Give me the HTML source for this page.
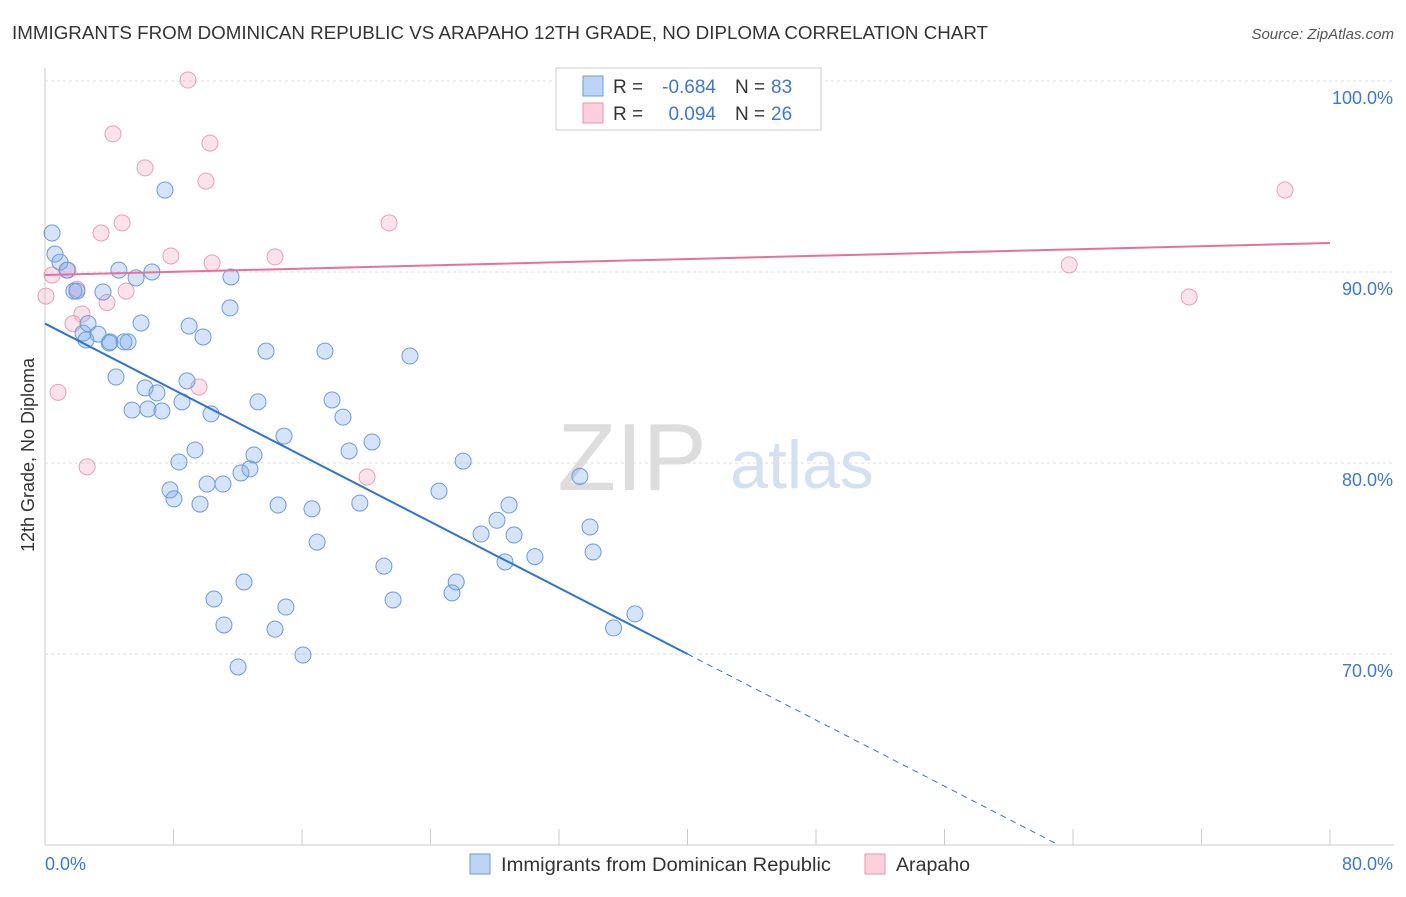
<!DOCTYPE html>
<html><head><meta charset="utf-8">
<style>
body{margin:0;background:#fff;font-family:"Liberation Sans",sans-serif;}
svg text{font-family:"Liberation Sans",sans-serif;}
</style></head>
<body>
<svg id="chart" width="1406" height="892" viewBox="0 0 1406 892" xmlns="http://www.w3.org/2000/svg">
<text x="12" y="39" font-size="18" fill="#333" textLength="976" lengthAdjust="spacingAndGlyphs">IMMIGRANTS FROM DOMINICAN REPUBLIC VS ARAPAHO 12TH GRADE, NO DIPLOMA CORRELATION CHART</text>
<text x="1394" y="39" font-size="15" fill="#555" text-anchor="end" font-style="italic">Source: ZipAtlas.com</text>
<g>
<text x="632" y="490" font-size="96" fill="#ddd" font-family="Liberation Serif, serif" text-anchor="middle">ZIP</text>
<text x="802" y="488" font-size="68" fill="#d4e1f3" text-anchor="middle">atlas</text>
</g>
<g id="grid"></g>
<g id="axes"></g>
<g id="marks"></g>
<text transform="translate(34,455) rotate(-90)" font-size="18" fill="#333" text-anchor="middle">12th Grade, No Diploma</text>
<g>
<rect x="556" y="68" width="265" height="62" fill="#fff" stroke="#ccc"/>
<rect x="583" y="76" width="20" height="20" fill="#bcd4f5" stroke="#6a9be0"/>
<rect x="583" y="103" width="20" height="20" fill="#fbd0dc" stroke="#e893b0"/>
<text x="613" y="93" font-size="19" fill="#333">R =</text>
<text x="716" y="93" font-size="19" fill="#3a78d8" text-anchor="end">-0.684</text>
<text x="735" y="93" font-size="19" fill="#333">N =</text>
<text x="771" y="93" font-size="19" fill="#3a78d8">83</text>
<text x="613" y="120" font-size="19" fill="#333">R =</text>
<text x="716" y="120" font-size="19" fill="#3a78d8" text-anchor="end">0.094</text>
<text x="735" y="120" font-size="19" fill="#333">N =</text>
<text x="771" y="120" font-size="19" fill="#3a78d8">26</text>
</g>
<g>
<rect x="470" y="854" width="20" height="20" fill="#bcd4f5" stroke="#6a9be0"/>
<text x="501" y="871" font-size="19" fill="#333" textLength="330" lengthAdjust="spacingAndGlyphs">Immigrants from Dominican Republic</text>
<rect x="865" y="854" width="20" height="20" fill="#fbd0dc" stroke="#e893b0"/>
<text x="896" y="871" font-size="19" fill="#333" textLength="74" lengthAdjust="spacingAndGlyphs">Arapaho</text>
</g>
</svg>
<script>
const yTicks=[100,90,80,70];
const yTickLabels=["100.0%","90.0%","80.0%","70.0%"];
const xTicks=[0,8,16,24,32,40,48,56,64,72,80];
const blueX=[0.44,0.62,0.93,1.37,1.8,1.99,2.37,2.68,2.55,3.3,3.61,4.0,4.05,4.42,4.6,4.92,5.17,5.42,5.67,5.98,6.23,6.41,6.66,6.97,7.28,7.47,7.78,8.03,8.34,8.53,8.84,8.97,9.34,9.65,9.84,10.09,10.34,10.52,11.08,11.14,11.52,11.58,12.02,12.2,12.39,12.76,13.01,13.26,13.76,14.32,14.51,14.88,15.0,16.06,16.62,16.94,17.43,17.87,18.55,18.93,19.6,20.36,21.1,21.67,22.72,24.53,25.34,25.6,26.03,27.15,28.14,28.64,28.89,29.2,30.5,33.3,33.93,34.12,35.4,36.73];
const blueY=[92.04,90.94,90.52,90.1,89.0,89.0,86.8,87.3,86.44,86.75,88.95,86.28,86.34,84.5,90.1,86.34,86.34,82.77,89.69,87.33,83.93,82.83,90.0,83.67,82.72,94.29,78.59,78.12,80.05,83.2,84.3,87.17,80.68,77.85,86.6,78.9,82.57,72.88,78.9,71.52,88.12,89.74,69.32,79.48,73.77,79.69,80.42,83.2,85.86,71.3,77.8,81.41,72.46,69.95,77.6,75.86,85.86,83.3,82.4,80.63,77.9,81.1,74.6,72.83,85.6,78.53,73.2,73.77,80.1,76.28,77.0,74.82,77.8,76.23,75.1,79.3,76.65,75.34,71.36,72.1];
const pinkX=[0.06,0.44,0.81,1.43,1.74,1.99,2.3,2.62,3.49,3.86,4.23,4.8,5.05,6.23,7.84,8.9,9.59,10.02,10.27,10.4,14.32,20.05,21.42,63.76,71.23,77.2];
const pinkY=[88.74,89.84,83.7,90.1,87.3,89.1,87.8,79.8,92.04,88.4,97.23,92.57,89.0,95.45,90.84,100.05,83.98,94.76,96.75,90.47,90.79,79.27,92.57,90.37,88.69,94.29];
const blueTrend=[87.3,-0.4325]; // intercept, slope
const pinkTrend=[89.84,0.021];
const NS="http://www.w3.org/2000/svg";
const X=v=>45+v*(1285/80);
const Y=v=>81+(100-v)*19.1;
function mk(tag,attrs,parent){const e=document.createElementNS(NS,tag);for(const k in attrs)e.setAttribute(k,attrs[k]);document.getElementById(parent).appendChild(e);return e;}
yTicks.forEach((t,i)=>{
  const l=mk('line',{x1:45,x2:1394,y1:Y(t),y2:Y(t),stroke:'#ddd','stroke-dasharray':'3,3'},'grid');
  
  
  const tx=mk('text',{x:1393,y:Y(t)+23,'font-size':18,fill:'#3a78d8','text-anchor':'end'},'axes');
  tx.textContent=yTickLabels[i];
  
  
});
const xa=mk('line',{x1:45,x2:1394,y1:845,y2:845,stroke:'#ccc'},'axes');


const ya=mk('line',{x1:45,x2:45,y1:68,y2:845,stroke:'#ccc'},'axes');


xTicks.forEach(t=>{
  const l=mk('line',{x1:X(t),x2:X(t),y1:829,y2:845,stroke:'#ccc'},'axes');
  
  
});
const xl0=mk('text',{x:45,y:870,'font-size':18,fill:'#3a78d8'},'axes');xl0.textContent='0.0%';


const xl1=mk('text',{x:1393,y:870,'font-size':18,fill:'#3a78d8','text-anchor':'end'},'axes');xl1.textContent='80.0%';


pinkX.forEach((x,i)=>{
  const c=mk('circle',{cx:X(x),cy:Y(pinkY[i]),r:8,fill:'rgba(244,160,188,0.3)',stroke:'#e8a0b8','stroke-width':1},'marks');
  
  
});
blueX.forEach((x,i)=>{
  const c=mk('circle',{cx:X(x),cy:Y(blueY[i]),r:8,fill:'rgba(120,165,235,0.3)',stroke:'#6a9be0','stroke-width':1},'marks');
  
  
});
const bEnd=40, bDashEnd=(60-blueTrend[0])/blueTrend[1];
const bl=mk('line',{x1:X(0),y1:Y(blueTrend[0]),x2:X(bEnd),y2:Y(blueTrend[0]+blueTrend[1]*bEnd),stroke:'#2f72d8','stroke-width':2},'marks');


const bd=mk('line',{x1:X(bEnd),y1:Y(blueTrend[0]+blueTrend[1]*bEnd),x2:X(bDashEnd),y2:Y(60),stroke:'#2f72d8','stroke-width':1,'stroke-dasharray':'6,5'},'marks');


const pl=mk('line',{x1:X(0),y1:Y(pinkTrend[0]),x2:X(80),y2:Y(pinkTrend[0]+pinkTrend[1]*80),stroke:'#e8709a','stroke-width':2},'marks');


</script>
</body></html>
